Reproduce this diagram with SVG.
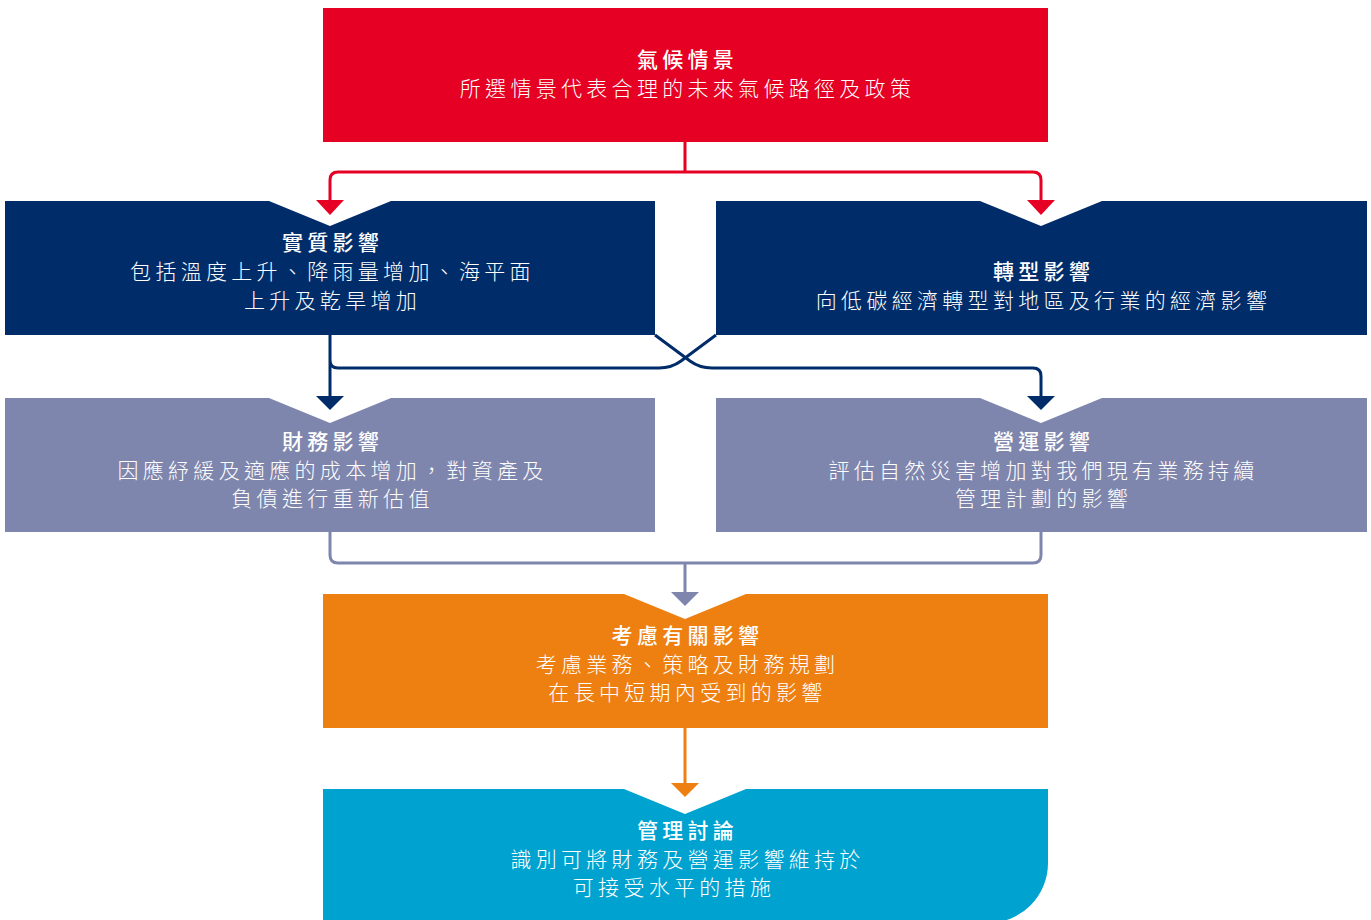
<svg xmlns="http://www.w3.org/2000/svg" width="1371" height="920" viewBox="0 0 1371 920">
<style>
text{font-family:"Noto Sans CJK TC","Noto Sans CJK SC",sans-serif;font-size:21px;font-weight:300;fill:#fff;text-anchor:middle;letter-spacing:4.3px}
.t{font-weight:500}
.ln{fill:none;stroke-width:3}
.red{stroke:#E60023}.navy{stroke:#002D6A}.gray{stroke:#7F86AD}.orange{stroke:#EE7F11}
</style>
<rect width="1371" height="920" fill="#fff"/>
<g id="climate">
<rect x="323" y="8" width="725" height="134" fill="#E60023"/>
<text class="t" x="687.5" y="67">氣候情景</text>
<text x="687.5" y="96">所選情景代表合理的未來氣候路徑及政策</text>
</g>
<g id="physical">
<path d="M5,201 H269 L330,226 L391,201 H655 V335 H5 Z" fill="#002D6A"/>
<text class="t" x="332.5" y="250">實質影響</text>
<text x="332.5" y="279">包括溫度上升、降雨量增加、海平面</text>
<text x="332.5" y="308">上升及乾旱增加</text>
</g>
<g id="transition">
<path d="M716,201 H980 L1041,226 L1102,201 H1367 V335 H716 Z" fill="#002D6A"/>
<text class="t" x="1043.5" y="279">轉型影響</text>
<text x="1043.5" y="308">向低碳經濟轉型對地區及行業的經濟影響</text>
</g>
<g id="financial">
<path d="M5,398 H269 L330,423 L391,398 H655 V532 H5 Z" fill="#7F86AD"/>
<text class="t" x="332.5" y="449">財務影響</text>
<text x="332.5" y="478">因應紓緩及適應的成本增加，對資產及</text>
<text x="332.5" y="506">負債進行重新估值</text>
</g>
<g id="operation">
<path d="M716,398 H980 L1041,423 L1102,398 H1367 V532 H716 Z" fill="#7F86AD"/>
<text class="t" x="1043.5" y="449">營運影響</text>
<text x="1043.5" y="478">評估自然災害增加對我們現有業務持續</text>
<text x="1043.5" y="506">管理計劃的影響</text>
</g>
<g id="consider">
<path d="M323,594 H624 L685,619 L746,594 H1048 V728 H323 Z" fill="#EE7F11"/>
<text class="t" x="687.5" y="643">考慮有關影響</text>
<text x="687.5" y="672">考慮業務、策略及財務規劃</text>
<text x="687.5" y="700">在長中短期內受到的影響</text>
</g>
<g id="management">
<path d="M323,789 H624 L685,814 L746,789 H1048 V863 A60,60 0 0 1 988,923 H323 Z" fill="#00A3D0"/>
<text class="t" x="687.5" y="838">管理討論</text>
<text x="687.5" y="867">識別可將財務及營運影響維持於</text>
<text x="674" y="895">可接受水平的措施</text>
</g>
<g id="connectors">
<path class="ln red" d="M685,142 V172 M330,202 V180 Q330,172 338,172 H1033 Q1041,172 1041,180 V202"/>
<polygon points="316,200 344,200 330,215" fill="#E60023"/>
<polygon points="1027,200 1055,200 1041,215" fill="#E60023"/>
<path class="ln navy" d="M330,335 V398 M330,360 Q330,368 338,368 H659 Q671.5,368 681,361 L716,335 M655,335 L690,361 Q699.5,368 712,368 H1033 Q1041,368 1041,376 V398"/>
<polygon points="316,396 344,396 330,410" fill="#002D6A"/>
<polygon points="1027,396 1055,396 1041,410" fill="#002D6A"/>
<path class="ln gray" d="M330,532 V555 Q330,563 338,563 H1033 Q1041,563 1041,555 V532 M685,563 V593"/>
<polygon points="671,592 699,592 685,606" fill="#7F86AD"/>
<path class="ln orange" d="M685,728 V785"/>
<polygon points="671,783 699,783 685,797" fill="#EE7F11"/>
</g>
</svg>
